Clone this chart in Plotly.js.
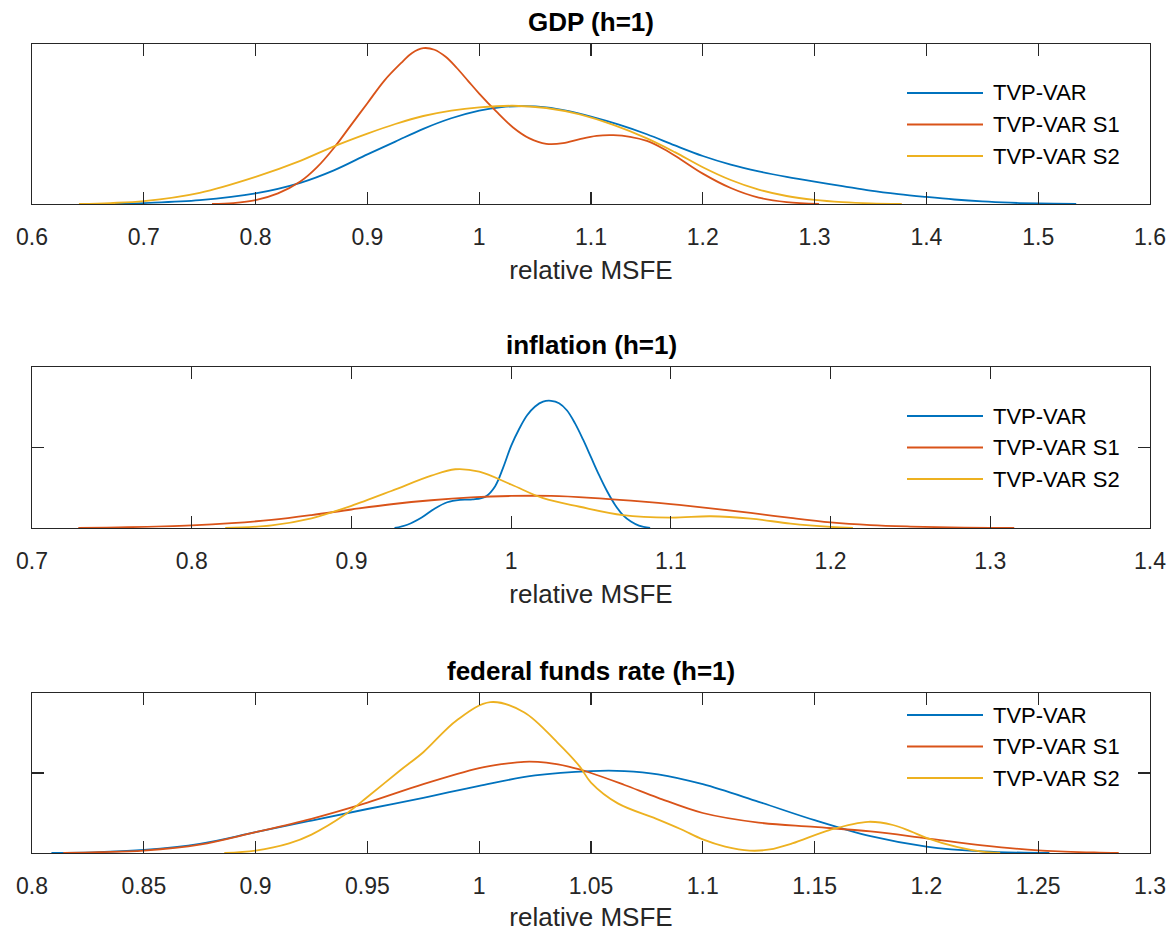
<!DOCTYPE html>
<html>
<head>
<meta charset="utf-8">
<script src="https://cdn.plot.ly/plotly-3.0.1.min.js"></script>
<style>html,body{margin:0;padding:0;background:#fff}</style>
</head>
<body>
<div id="chart" style="width:1173px;height:932px"></div>
<script>
// Series and panel labels
const seriesNames = ['TVP-VAR', 'TVP-VAR S1', 'TVP-VAR S2'];
const panelTitles = ['GDP (h=1)', 'inflation (h=1)', 'federal funds rate (h=1)'];
const xAxisLabel = 'relative MSFE';

// GDP: kernel densities of relative MSFE
const gdpTvpX = [0.674, 0.70, 0.75, 0.80, 0.84, 0.87, 0.90, 0.925, 0.95, 0.975, 1.00, 1.02, 1.04, 1.06, 1.08, 1.10, 1.125, 1.15, 1.175, 1.20, 1.225, 1.25, 1.275, 1.30, 1.325, 1.35, 1.375, 1.40, 1.425, 1.45, 1.475, 1.50, 1.534];
const gdpTvpY = [0, 0.03, 0.12, 0.33, 0.66, 1.05, 1.55, 1.95, 2.35, 2.68, 2.92, 3.03, 3.06, 3.02, 2.9, 2.73, 2.48, 2.18, 1.83, 1.5, 1.23, 1.02, 0.85, 0.7, 0.56, 0.42, 0.31, 0.22, 0.14, 0.08, 0.04, 0.015, 0];
const gdpS1X = [0.761, 0.78, 0.80, 0.82, 0.84, 0.855, 0.87, 0.885, 0.90, 0.915, 0.93, 0.94, 0.95, 0.96, 0.97, 0.98, 0.99, 1.00, 1.015, 1.03, 1.045, 1.06, 1.075, 1.09, 1.105, 1.12, 1.135, 1.15, 1.165, 1.18, 1.20, 1.225, 1.25, 1.275, 1.304];
const gdpS1Y = [0, 0.03, 0.12, 0.33, 0.7, 1.15, 1.75, 2.45, 3.15, 3.85, 4.4, 4.72, 4.87, 4.82, 4.6, 4.25, 3.85, 3.45, 2.9, 2.4, 2.05, 1.88, 1.9, 2.03, 2.13, 2.15, 2.1, 1.97, 1.72, 1.4, 0.95, 0.5, 0.2, 0.06, 0];
const gdpS2X = [0.642, 0.67, 0.70, 0.75, 0.80, 0.84, 0.87, 0.90, 0.925, 0.95, 0.975, 1.00, 1.03, 1.06, 1.09, 1.12, 1.15, 1.175, 1.20, 1.225, 1.25, 1.275, 1.30, 1.325, 1.35, 1.378];
const gdpS2Y = [0, 0.03, 0.09, 0.35, 0.85, 1.35, 1.8, 2.2, 2.5, 2.75, 2.92, 3.02, 3.07, 3.0, 2.8, 2.47, 2.05, 1.62, 1.15, 0.75, 0.45, 0.25, 0.13, 0.06, 0.02, 0];

// Inflation
const infTvpX = [0.927, 0.935, 0.944, 0.952, 0.96, 0.968, 0.976, 0.984, 0.99, 0.995, 1.00, 1.005, 1.01, 1.015, 1.02, 1.025, 1.03, 1.035, 1.04, 1.045, 1.05, 1.055, 1.06, 1.065, 1.07, 1.075, 1.08, 1.087];
const infTvpY = [0, 0.4, 1.3, 2.4, 3.2, 3.5, 3.55, 3.9, 5.2, 7.5, 10.2, 12.3, 14.0, 15.1, 15.7, 15.8, 15.5, 14.6, 13.0, 11.0, 8.8, 6.6, 4.6, 2.9, 1.6, 0.8, 0.3, 0];
const infS1X = [0.729, 0.76, 0.80, 0.825, 0.85, 0.875, 0.90, 0.925, 0.95, 0.975, 1.00, 1.025, 1.05, 1.075, 1.10, 1.125, 1.15, 1.175, 1.20, 1.225, 1.25, 1.275, 1.30, 1.315];
const infS1Y = [0, 0.1, 0.33, 0.6, 1.0, 1.6, 2.3, 2.95, 3.45, 3.8, 3.98, 3.98, 3.75, 3.4, 2.97, 2.45, 1.88, 1.25, 0.7, 0.36, 0.18, 0.07, 0.02, 0];
const infS2X = [0.821, 0.85, 0.875, 0.89, 0.90, 0.925, 0.95, 0.965, 0.98, 1.00, 1.02, 1.043, 1.07, 1.10, 1.125, 1.15, 1.175, 1.20, 1.214];
const infS2Y = [0, 0.33, 1.2, 2.1, 2.75, 4.6, 6.5, 7.3, 7.0, 5.4, 3.7, 2.64, 1.6, 1.3, 1.46, 1.17, 0.54, 0.13, 0];

// Federal funds rate
const ffrTvpX = [0.8087, 0.83, 0.85, 0.875, 0.90, 0.925, 0.95, 0.975, 1.00, 1.025, 1.05, 1.065, 1.08, 1.10, 1.125, 1.15, 1.175, 1.20, 1.225, 1.255];
const ffrTvpY = [0, 0.06, 0.19, 0.57, 1.3, 2.03, 2.75, 3.45, 4.2, 4.85, 5.12, 5.12, 4.92, 4.3, 3.2, 2.05, 1.05, 0.4, 0.1, 0];
const ffrS1X = [0.814, 0.83, 0.85, 0.875, 0.90, 0.925, 0.95, 0.975, 1.00, 1.01, 1.02, 1.03, 1.04, 1.05, 1.065, 1.08, 1.10, 1.125, 1.15, 1.175, 1.20, 1.225, 1.25, 1.275, 1.286];
const ffrS1Y = [0, 0.05, 0.15, 0.52, 1.3, 2.14, 3.15, 4.3, 5.3, 5.55, 5.7, 5.65, 5.4, 5.0, 4.25, 3.45, 2.5, 1.9, 1.63, 1.35, 0.92, 0.48, 0.16, 0.03, 0];
const ffrS2X = [0.886, 0.90, 0.915, 0.925, 0.94, 0.95, 0.965, 0.975, 0.99, 1.005, 1.02, 1.035, 1.045, 1.05, 1.062, 1.079, 1.09, 1.10, 1.11, 1.121, 1.13, 1.14, 1.157, 1.174, 1.185, 1.193, 1.20, 1.214, 1.225, 1.233];
const ffrS2Y = [0, 0.15, 0.6, 1.15, 2.4, 3.5, 5.2, 6.3, 8.3, 9.43, 8.8, 6.9, 5.4, 4.4, 3.1, 2.15, 1.5, 0.85, 0.4, 0.15, 0.22, 0.6, 1.45, 1.95, 1.75, 1.35, 0.95, 0.36, 0.08, 0];

// Axis ticks
const gdpXTicks = [0.6, 0.7, 0.8, 0.9, 1, 1.1, 1.2, 1.3, 1.4, 1.5, 1.6];
const gdpXTickText = ['0.6', '0.7', '0.8', '0.9', '1', '1.1', '1.2', '1.3', '1.4', '1.5', '1.6'];
const infXTicks = [0.7, 0.8, 0.9, 1, 1.1, 1.2, 1.3, 1.4];
const infXTickText = ['0.7', '0.8', '0.9', '1', '1.1', '1.2', '1.3', '1.4'];
const ffrXTicks = [0.8, 0.85, 0.9, 0.95, 1, 1.05, 1.1, 1.15, 1.2, 1.25, 1.3];
const ffrXTickText = ['0.8', '0.85', '0.9', '0.95', '1', '1.05', '1.1', '1.15', '1.2', '1.25', '1.3'];
const gdpYTicks = [0, 5];
const infYTicks = [0, 10, 20];
const ffrYTicks = [0, 5, 10];

const colors = ['#0072BD', '#D95319', '#EDB120'];
const axisColor = '#262626';
const W = 1173, H = 932;
const boxLeft = 32, boxRight = 1150;

const panels = [
  {xs: [gdpTvpX, gdpS1X, gdpS2X], ys: [gdpTvpY, gdpS1Y, gdpS2Y], xr: [0.6, 1.6], yr: [0, 5],
   xt: gdpXTicks, xtt: gdpXTickText, yt: gdpYTicks, top: 44, bottom: 204, legTop: 93},
  {xs: [infTvpX, infS1X, infS2X], ys: [infTvpY, infS1Y, infS2Y], xr: [0.7, 1.4], yr: [0, 20],
   xt: infXTicks, xtt: infXTickText, yt: infYTicks, top: 367, bottom: 528, legTop: 416},
  {xs: [ffrTvpX, ffrS1X, ffrS2X], ys: [ffrTvpY, ffrS1Y, ffrS2Y], xr: [0.8, 1.3], yr: [0, 10],
   xt: ffrXTicks, xtt: ffrXTickText, yt: ffrYTicks, top: 693, bottom: 853, legTop: 715}
];

const traces = [];
const layout = {
  width: W, height: H,
  margin: {l: 0, r: 0, t: 0, b: 0},
  paper_bgcolor: '#ffffff', plot_bgcolor: '#ffffff',
  showlegend: false,
  font: {family: 'Liberation Sans, Arial, sans-serif', color: axisColor},
  shapes: [], annotations: []
};

panels.forEach((p, k) => {
  const n = k === 0 ? '' : String(k + 1);
  p.xs.forEach((xv, i) => {
    traces.push({
      type: 'scatter', mode: 'lines', name: seriesNames[i],
      x: xv, y: p.ys[i], xaxis: 'x' + n, yaxis: 'y' + n,
      line: {color: colors[i], width: 1.8, shape: 'spline', smoothing: 1},
      hoverinfo: 'skip'
    });
  });
  layout['xaxis' + n] = {
    domain: [boxLeft / W, boxRight / W], anchor: 'y' + n, range: p.xr,
    tickmode: 'array', tickvals: p.xt, ticktext: p.xtt,
    ticks: 'inside', ticklen: 12, tickwidth: 1.2, tickcolor: axisColor,
    ticklabelstandoff: 12,
    showline: true, linecolor: axisColor, linewidth: 1.4, mirror: 'ticks',
    showgrid: false, zeroline: false,
    tickfont: {size: 23, color: axisColor},
    title: {text: xAxisLabel, font: {size: 26, color: axisColor}, standoff: 11}
  };
  layout['yaxis' + n] = {
    domain: [1 - p.bottom / H, 1 - p.top / H], anchor: 'x' + n, range: p.yr,
    tickmode: 'array', tickvals: p.yt, showticklabels: false,
    ticks: 'inside', ticklen: 12, tickwidth: 1.2, tickcolor: axisColor,
    showline: true, linecolor: axisColor, linewidth: 1.4, mirror: 'ticks',
    showgrid: false, zeroline: false
  };
  // panel title
  layout.annotations.push({
    text: panelTitles[k], xref: 'paper', yref: 'paper',
    x: (boxLeft + boxRight) / 2 / W, y: 1 - (p.top - 22) / H,
    xanchor: 'center', yanchor: 'middle', showarrow: false,
    font: {size: 26, weight: 'bold', color: '#000000'}
  });
  // legend without a box, with long line samples
  seriesNames.forEach((name, i) => {
    const yy = 1 - (p.legTop + i * 31.5) / H;
    layout.shapes.push({
      type: 'line', xref: 'paper', yref: 'paper',
      x0: 907 / W, x1: 983 / W, y0: yy, y1: yy,
      line: {color: colors[i], width: 1.8}
    });
    layout.annotations.push({
      text: name, xref: 'paper', yref: 'paper',
      x: 991 / W, y: yy, xanchor: 'left', yanchor: 'middle', showarrow: false,
      font: {size: 22, color: '#000000'}
    });
  });
});

Plotly.newPlot('chart', traces, layout, {displayModeBar: false, staticPlot: true});
</script>
</body>
</html>
